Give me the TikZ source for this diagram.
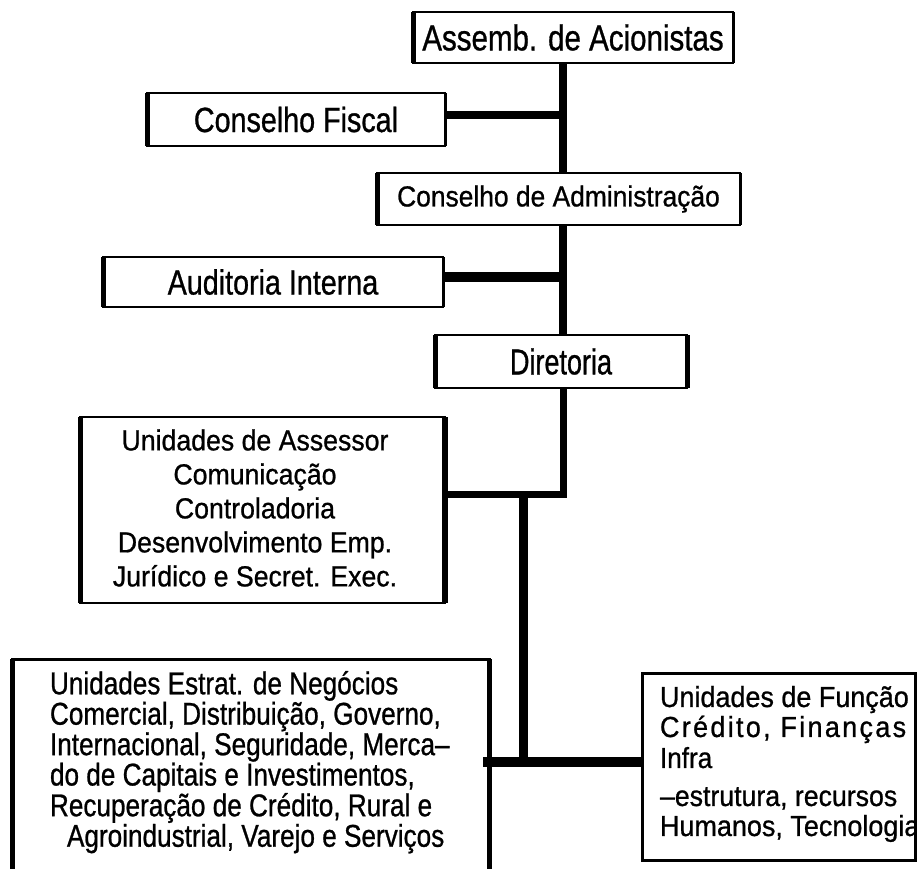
\documentclass[tikz,border=0pt]{standalone}
\usepackage{fontspec}
\setmainfont{Liberation Sans}
\newcommand\fnt[3]{\fontsize{#1}{#2}\selectfont\addfontfeature{FakeStretch=#3,FakeBold=0.8}}
\newcommand\boxsides[3]{%
  \draw[line width=#2] (#1.north west) -- (#1.south west);
  \draw[line width=#3] (#1.north east) -- (#1.south east);}
\tikzset{
  box/.style={draw, line width=2pt, inner sep=0pt, outer sep=0pt, anchor=center},
  widebox/.style={box, line width=3pt},
  conn/.style={line width=8pt},
  txt/.style={inner sep=0pt, outer sep=0pt},
}
\begin{document}
\begin{tikzpicture}[x=1pt,y=-1pt]
\useasboundingbox[fill=white] (0,0) rectangle (917,868);

% boxes
\node[box, minimum width=320pt, minimum height=51pt, font=\fnt{36}{40}{0.82}] (assemb) at (573,37.5) {Assemb. de Acionistas};
\node[box, minimum width=298pt, minimum height=53pt, font=\fnt{35}{40}{0.82}] (fiscal) at (296,119.5) {Conselho Fiscal};
\node[box, minimum width=363pt, minimum height=52pt, font=\fnt{29}{34}{0.91}] (admin) at (558.5,199) {Conselho de Administração};
\node[box, minimum width=340pt, minimum height=50pt, font=\fnt{35}{40}{0.82}] (audit) at (273,282) {Auditoria Interna};
\node[box, minimum width=252pt, minimum height=53pt, font=\fnt{36}{40}{0.75}] (diret) at (561,361.5) {Diretoria};
\node[box, minimum width=365pt, minimum height=186pt] (assess) at (262.5,510) {};
\node[widebox, minimum width=477pt, minimum height=260pt] (estrat) at (250.5,789) {};
\node[widebox, minimum width=274pt, minimum height=187pt] (func) at (779,766.5) {};

% texts
\node[txt, align=center, font=\fnt{29}{34}{0.92}] (assesstext) at (255,508)
  {Unidades de Assessor\\Comunicação\\Controladoria\\Desenvolvimento Emp.\\Jurídico e Secret. Exec.};
\node[txt, align=left, anchor=south west, font=\fnt{31.5}{28}{0.83}] (estrattext) at (50,853.4)
  {Unidades Estrat. de Negócios\\Comercial, Distribuição, Governo,\\Internacional, Seguridade, Merca–\\do de Capitais e Investimentos,\\Recuperação de Crédito, Rural e\\\hspace*{17pt}Agroindustrial, Varejo e Serviços};
\node[txt, align=left, anchor=south west, font=\fnt{29}{30}{1}] (functext) at (660,842)
  {{\addfontfeature{FakeStretch=0.93}Unidades de Função}\\
   {\addfontfeature{FakeStretch=0.93,LetterSpace=8}Crédito, Finanças}\\[1pt]
   {\addfontfeature{FakeStretch=0.9}Infra}\\[8pt]
   {\addfontfeature{FakeStretch=0.92}–estrutura, recursos}\\
   {\addfontfeature{FakeStretch=0.93}Humanos, Tecnologia}};

% thick box sides
\boxsides{assemb}{5pt}{3pt}
\boxsides{fiscal}{5pt}{3pt}
\boxsides{admin}{5pt}{3pt}
\boxsides{audit}{5pt}{3pt}
\boxsides{diret}{5pt}{5pt}
\boxsides{assess}{5pt}{6pt}
\boxsides{estrat}{5pt}{5pt}
\boxsides{func}{3pt}{4pt}

% connectors
\coordinate (sp) at (563,0);
\coordinate (sp2) at (523,0);
\coordinate (j1) at (563,494);
\coordinate (j2) at (523,762);
\draw[conn] (assemb.south -| sp) -- (admin.north -| sp);
\draw[conn] ([yshift=4.5pt]fiscal.east) -- ([yshift=4.5pt]fiscal.east -| sp);
\draw[conn] (admin.south -| sp) -- (diret.north -| sp);
\draw[conn, line width=10pt] ([yshift=5pt]audit.east) -- ([yshift=5pt]audit.east -| sp);
\draw[conn, line width=7pt] (diret.south -| sp) -- (j1) -- (assess.east |- j1);
\draw[conn, line width=9pt] (sp2 |- j1) -- (j2);
\draw[conn, line width=10pt] ([xshift=-6pt]estrat.east |- j2) -- (func.west |- j2);
\end{tikzpicture}
\end{document}
